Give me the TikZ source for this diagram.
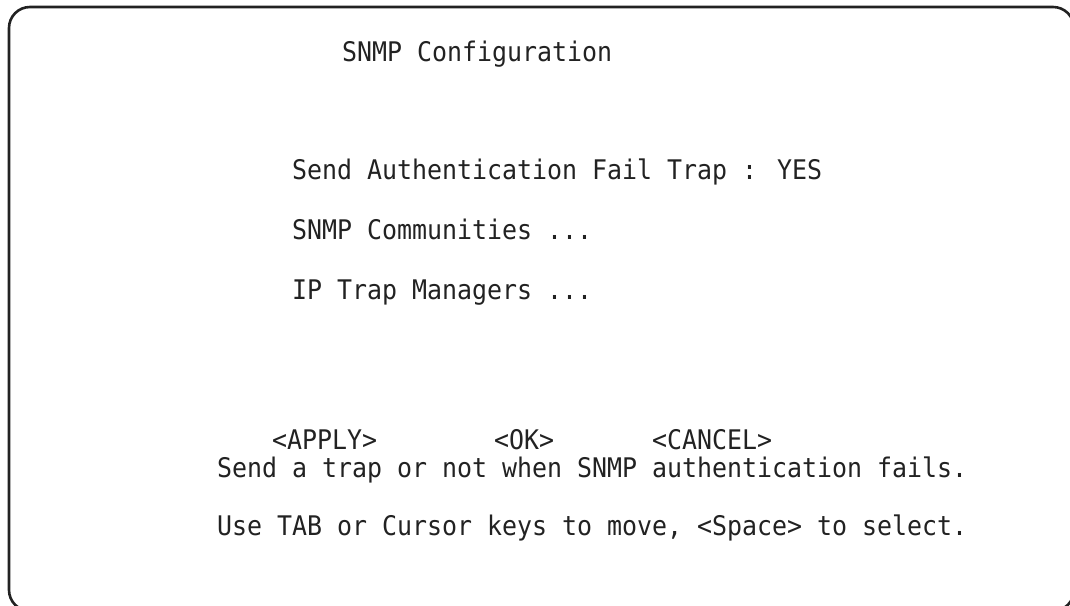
\documentclass[tikz,border=0pt]{standalone}
\usepackage{fontspec}
\newfontfamily\termfont[FakeStretch=0.923]{DejaVu Sans Mono}
\definecolor{ink}{HTML}{222222}
\begin{document}
\begin{tikzpicture}[x=1pt,y=1pt,
  term/.style={anchor=base west,inner sep=0pt,outer sep=0pt,text=ink,font=\termfont\fontsize{27}{31}\selectfont},
  frame/.style={draw=ink,line width=2.6pt,rounded corners=21pt}]
\useasboundingbox (0,0) rectangle (1070,605);
\clip (0,0) rectangle (1070,605);
\draw[frame] (9,598) rectangle (1074,-6);
\node[term] (title) at (342,543) {SNMP Configuration};
\node[term] (auth) at (292,425) {Send Authentication Fail Trap : YES};
\node[term] (comm) at (292,365) {SNMP Communities ...};
\node[term] (mgr) at (292,305) {IP Trap Managers ...};
\node[term] (apply) at (272,155) {<APPLY>};
\node[term] (ok) at (494,155) {<OK>};
\node[term] (cancel) at (652,155) {<CANCEL>};
\node[term] (help) at (217,128) {Send a trap or not when SNMP authentication fails.};
\node[term] (keys) at (217,70) {Use TAB or Cursor keys to move, <Space> to select.};
\end{tikzpicture}
\end{document}
